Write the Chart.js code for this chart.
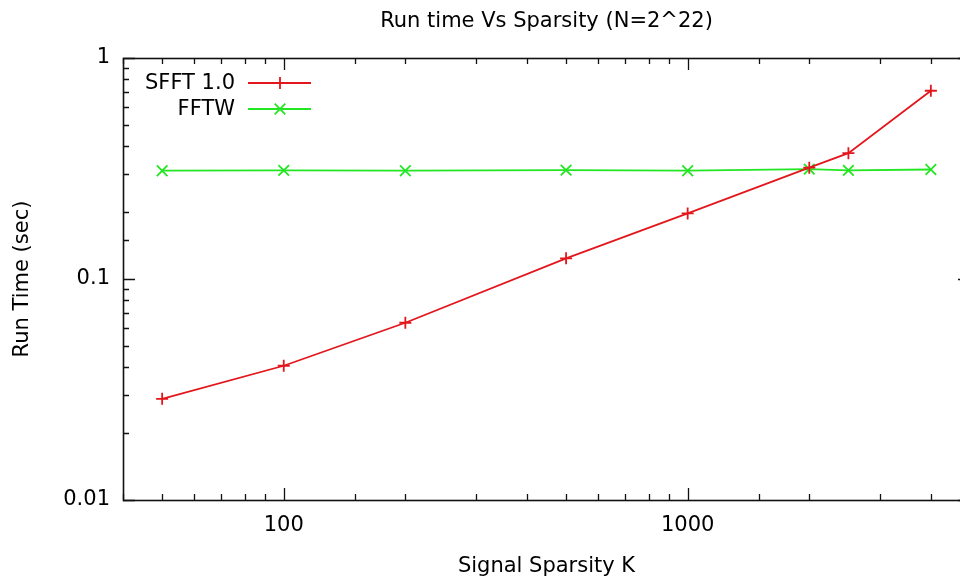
<!DOCTYPE html>
<html>
<head>
<meta charset="utf-8">
<script src="https://cdn.jsdelivr.net/npm/chart.js@4/dist/chart.umd.min.js"></script>
<style>
  html, body { margin: 0; padding: 0; background: #fff; overflow: hidden; }
  #clip { width: 960px; height: 581px; overflow: hidden; position: relative; }
  #wrap { width: 990px; height: 581px; position: absolute; left: 0; top: 0; }
</style>
</head>
<body>
<div id="clip"><div id="wrap"><canvas id="c"></canvas></div></div>
<script>
// ---- data ----
const sparsityK = [50, 100, 200, 500, 1000, 2000, 2500, 4000];
const sfftTimes = [0.0287, 0.0405, 0.0634, 0.124, 0.198, 0.319, 0.371, 0.711];
const fftwTimes = [0.309, 0.310, 0.309, 0.311, 0.309, 0.314, 0.310, 0.313];
const seriesNames = ['SFFT 1.0', 'FFTW'];
const xTickLabels = ['100', '1000'];
const yTickLabels = ['0.01', '0.1', '1'];
const chartTitle = 'Run time Vs Sparsity (N=2^22)';
const xAxisTitle = 'Signal Sparsity K';
const yAxisTitle = 'Run Time (sec)';

const FONT = 'DejaVu Sans';
const FSIZE = 21;
const RED = '#e3161c';
const GREEN = '#22e622';

function isPow10(v) {
  const l = Math.log10(v);
  return Math.abs(l - Math.round(l)) < 1e-6;
}
function labelFor(v, list) {
  for (const s of list) {
    if (Math.abs(parseFloat(s) - v) / parseFloat(s) < 1e-6) return s;
  }
  return '';
}

const frameAndTicks = {
  id: 'frameAndTicks',
  afterDatasetsDraw(chart) {
    const ctx = chart.ctx;
    const a = chart.chartArea;
    const xs = chart.scales.x, ys = chart.scales.y;
    ctx.save();
    ctx.strokeStyle = '#111';
    ctx.lineWidth = 1.3;
    ctx.beginPath();
    xs.ticks.forEach(t => {
      const px = Math.round(xs.getPixelForValue(t.value)) + 0.5;
      const len = isPow10(t.value) ? 12 : 6;
      ctx.moveTo(px, a.bottom); ctx.lineTo(px, a.bottom - len);
      ctx.moveTo(px, a.top); ctx.lineTo(px, a.top + len);
    });
    ys.ticks.forEach(t => {
      const py = Math.round(ys.getPixelForValue(t.value)) + 0.5;
      const len = isPow10(t.value) ? 12 : 6;
      ctx.moveTo(a.left, py); ctx.lineTo(a.left + len, py);
      ctx.moveTo(a.right, py); ctx.lineTo(a.right - len, py);
    });
    ctx.stroke();
    ctx.lineWidth = 1.6;
    ctx.strokeRect(Math.round(a.left) + 0.5, Math.round(a.top) + 0.5,
                   Math.round(a.right - a.left), Math.round(a.bottom - a.top));
    ctx.restore();
  }
};

const keyBox = {
  id: 'keyBox',
  afterDraw(chart) {
    const ctx = chart.ctx;
    const rows = [83, 109];
    ctx.save();
    chart.data.datasets.forEach((ds, i) => {
      const y = rows[i];
      ctx.fillStyle = '#000';
      ctx.font = FSIZE + 'px "' + FONT + '"';
      ctx.textAlign = 'right';
      ctx.textBaseline = 'middle';
      ctx.fillText(ds.label, 235, y + 1);
      ctx.strokeStyle = ds.borderColor;
      ctx.lineWidth = ds.borderWidth;
      ctx.beginPath();
      ctx.moveTo(248, y); ctx.lineTo(311, y);
      ctx.stroke();
      Chart.helpers.drawPoint(ctx, {
        pointStyle: ds.pointStyle, radius: ds.pointRadius,
        borderWidth: ds.pointBorderWidth, rotation: 0
      }, 280, y);
    });
    ctx.restore();
  }
};

const mk = (ys) => sparsityK.map((k, i) => ({ x: k, y: ys[i] }));

new Chart(document.getElementById('c'), {
  type: 'line',
  data: {
    datasets: [
      {
        label: seriesNames[0], data: mk(sfftTimes),
        borderColor: RED, backgroundColor: RED, borderWidth: 1.8,
        pointStyle: 'cross', pointRadius: 6, pointBorderWidth: 1.8,
        pointBorderColor: RED, tension: 0, fill: false
      },
      {
        label: seriesNames[1], data: mk(fftwTimes),
        borderColor: GREEN, backgroundColor: GREEN, borderWidth: 1.8,
        pointStyle: 'crossRot', pointRadius: 7.5, pointBorderWidth: 1.8,
        pointBorderColor: GREEN, tension: 0, fill: false
      }
    ]
  },
  options: {
    responsive: true,
    maintainAspectRatio: false,
    devicePixelRatio: 1,
    animation: false,
    layout: { padding: { left: 0, right: 20, top: 0, bottom: 0 } },
    plugins: {
      legend: { display: false },
      tooltip: { enabled: false },
      title: {
        display: true, text: chartTitle, fullSize: false,
        color: '#000', font: { family: FONT, size: FSIZE, weight: 'normal' },
        padding: { top: 9, bottom: 23.8 }
      }
    },
    scales: {
      x: {
        type: 'logarithmic', min: 40, max: 5000,
        grid: { display: false, drawTicks: false },
        border: { display: false },
        ticks: {
          autoSkip: false, maxRotation: 0, padding: 13, color: '#000',
          font: { family: FONT, size: FSIZE },
          callback: (v) => labelFor(v, xTickLabels)
        },
        title: {
          display: true, text: xAxisTitle, color: '#000',
          font: { family: FONT, size: FSIZE }, padding: { top: 0, bottom: 1.5 }
        },
        afterFit: (s) => { s.height = 81; }
      },
      y: {
        type: 'logarithmic', min: 0.01, max: 1,
        grid: { display: false, drawTicks: false },
        border: { display: false },
        ticks: {
          autoSkip: false, padding: 13, color: '#000',
          font: { family: FONT, size: FSIZE },
          callback: (v) => labelFor(v, yTickLabels)
        },
        title: {
          display: true, text: yAxisTitle, color: '#000',
          font: { family: FONT, size: FSIZE }, padding: { top: 10, bottom: 0 }
        },
        afterFit: (s) => { s.width = 123; }
      }
    }
  },
  plugins: [frameAndTicks, keyBox]
});
</script>
</body>
</html>
